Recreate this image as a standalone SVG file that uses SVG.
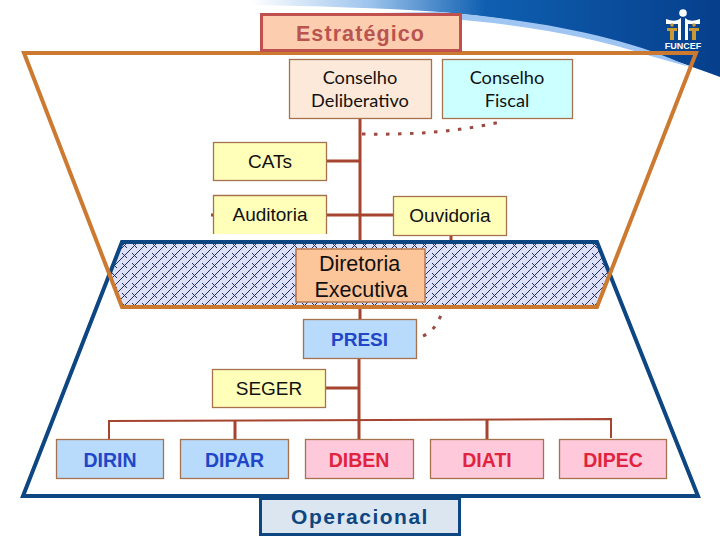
<svg xmlns="http://www.w3.org/2000/svg" width="720" height="540" viewBox="0 0 720 540">
<style>
.t{font-family:"Liberation Sans",Arial,sans-serif;text-anchor:middle;fill:#111}
.g{font-family:Lato,"Liberation Sans",sans-serif;font-size:18.200px}
.s{font-size:19px}
.b{font-weight:bold;font-size:19.500px;fill:#2246c8}
.r{font-weight:bold;font-size:19.500px;fill:#e0233f}
.n{stroke:#a5714f;stroke-width:1.3}
.c{stroke:#a5452f;stroke-width:3;fill:none}
.f{stroke:#a5452f;stroke-width:2;fill:none}
.d{stroke:#9a4a42;stroke-width:3;fill:none;stroke-dasharray:3.500 8.500}
</style>
<defs>
<pattern id="h" width="10" height="10" patternUnits="userSpaceOnUse">
<rect width="10" height="10" fill="#dde0f4"/>
<path d="M-1 11L11 -1M2 3L7 8" stroke="#1d2f60" stroke-width="1" fill="none"/>
</pattern>
<linearGradient id="sky" gradientUnits="userSpaceOnUse" x1="250" y1="0" x2="720" y2="0"><stop offset="0" stop-color="#fff"/><stop offset="0.25" stop-color="#9fc5ee"/><stop offset="0.5" stop-color="#0f5fb0"/><stop offset="1" stop-color="#063f8c"/></linearGradient>
</defs>
<rect width="720" height="540" fill="#fff"/>
<g id="banner">
<path d="M250 0H720V77C640 47 560 22 440 12C380 8 310 6 250 5Z" fill="url(#sky)"/>
<path d="M440 12C540 20 630 38 690 67L654 57C590 36 520 24 440 18C420 16 400 14 380 13Z" fill="#9fc5f2"/>
<rect x="460" y="51" width="190" height="4" fill="#b0a59a"/>
<path d="M650 51H690L686 55H650Z" fill="#1a3050"/>
</g>
<g id="logo">
<circle cx="683" cy="13" r="3.800" fill="#fff"/>
<path d="M666 19Q676 23 681 18V40H678V24H666ZM700 19Q690 23 685 18V40H688V24H700Z" fill="#fff"/>
<circle cx="672" cy="25" r="1.800" fill="#c79a35"/><circle cx="694" cy="25" r="1.800" fill="#c79a35"/>
<path d="M667 28H677V31H674V40H670V31H667ZM689 28H699V31H696V40H692V31H689Z" fill="#c79a35"/>
<text class="t" x="683" y="49" style="font-size:9px;font-weight:bold;fill:#fff">FUNCEF</text>
</g>
<g id="connectors">
<path class="c" d="M360 118V318M327 161H360M327 215H394M360 318V325M359 359V420M326 388H359"/>
<path class="f" d="M109 443V421Q360 421 611 419V438"/>
<path class="c" d="M235 421V439M359 420V439M487 420V439"/>
<path class="d" d="M362 134C410 135 460 132 504 121"/>
<path class="d" d="M423 336C432 332 437 325 441 315"/>
<path class="c" d="M451 236V242" stroke-width="2"/>
<path class="c" d="M213 215H211" stroke-width="2"/>
</g>
<g id="diretoria-band">
<path d="M122 242H598L610 275L598 307H122L110 275Z" fill="url(#h)"/>
</g>
<g id="trapezoid-operacional">
<path d="M122 242H597L698 496H23Z" fill="none" stroke="#0d4680" stroke-width="4"/>
</g>
<g id="trapezoid-estrategico">
<path d="M24 53H696L597 307H122Z" fill="none" stroke="#cc7a32" stroke-width="4"/>
</g>
<g id="estrategico">
<rect x="261.500" y="14.500" width="199" height="36" fill="#fdcdb0" stroke="#c0504d" stroke-width="3"/>
<text class="t" x="360.500" y="41" style="font-size:21.500px;font-weight:bold;fill:#b85550;letter-spacing:1.100px">Estratégico</text>
</g>
<g id="conselho-deliberativo">
<rect class="n" x="289.500" y="59.500" width="142" height="59" fill="#fde9d9"/>
<text class="t g" x="360" y="84">Conselho</text>
<text class="t g" x="360" y="107">Deliberativo</text>
</g>
<g id="conselho-fiscal">
<rect class="n" x="442.500" y="59.500" width="130" height="59" fill="#ccffff"/>
<text class="t g" x="507" y="84">Conselho</text>
<text class="t g" x="507" y="107">Fiscal</text>
</g>
<g id="cats">
<rect class="n" x="213.500" y="142.500" width="113" height="38" fill="#ffffb9"/>
<text class="t s" x="270" y="168">CATs</text>
</g>
<g id="auditoria">
<path class="n" d="M213.500 234V195.500H326.500V234" fill="#ffffb9"/>
<text class="t s" x="270" y="221">Auditoria</text>
</g>
<g id="ouvidoria">
<rect class="n" x="393.500" y="196.500" width="113" height="39" fill="#ffffb9"/>
<text class="t s" x="450" y="222">Ouvidoria</text>
</g>
<g id="diretoria-executiva">
<rect x="296" y="249" width="129" height="53" fill="#fdc59a" stroke="#b5764a" stroke-width="1.500"/>
<text class="t" x="359.500" y="271" style="font-size:21.500px">Diretoria</text>
<text class="t" x="361" y="297" style="font-size:21.500px">Executiva</text>
</g>
<g id="presi">
<rect class="n" x="303.500" y="319.500" width="113" height="39" fill="#b8dafb"/>
<text class="t b" x="359.500" y="346" style="font-size:19px">PRESI</text>
</g>
<g id="seger">
<rect class="n" x="212.500" y="369.500" width="113" height="38" fill="#ffffb9"/>
<text class="t s" x="269" y="395">SEGER</text>
</g>
<g id="dirin">
<rect class="n" x="56.500" y="439.500" width="107" height="39" fill="#b8dafb"/>
<text class="t b" x="110" y="467">DIRIN</text>
</g>
<g id="dipar">
<rect class="n" x="180.500" y="439.500" width="108" height="39" fill="#b8dafb"/>
<text class="t b" x="234.500" y="467">DIPAR</text>
</g>
<g id="diben">
<rect class="n" x="305.500" y="439.500" width="108" height="39" fill="#ffc9dc"/>
<text class="t r" x="359" y="467">DIBEN</text>
</g>
<g id="diati">
<rect class="n" x="430.500" y="439.500" width="113" height="39" fill="#ffc9dc"/>
<text class="t r" x="487" y="467">DIATI</text>
</g>
<g id="dipec">
<rect class="n" x="559.500" y="439.500" width="107" height="39" fill="#ffc9dc"/>
<text class="t r" x="613" y="467">DIPEC</text>
</g>
<g id="operacional">
<rect x="260.500" y="498.500" width="199" height="36" fill="#dce6f1" stroke="#0d4680" stroke-width="3"/>
<text class="t" x="360" y="524" style="font-size:21px;font-weight:bold;fill:#0d4680;letter-spacing:1.500px">Operacional</text>
</g>
</svg>
